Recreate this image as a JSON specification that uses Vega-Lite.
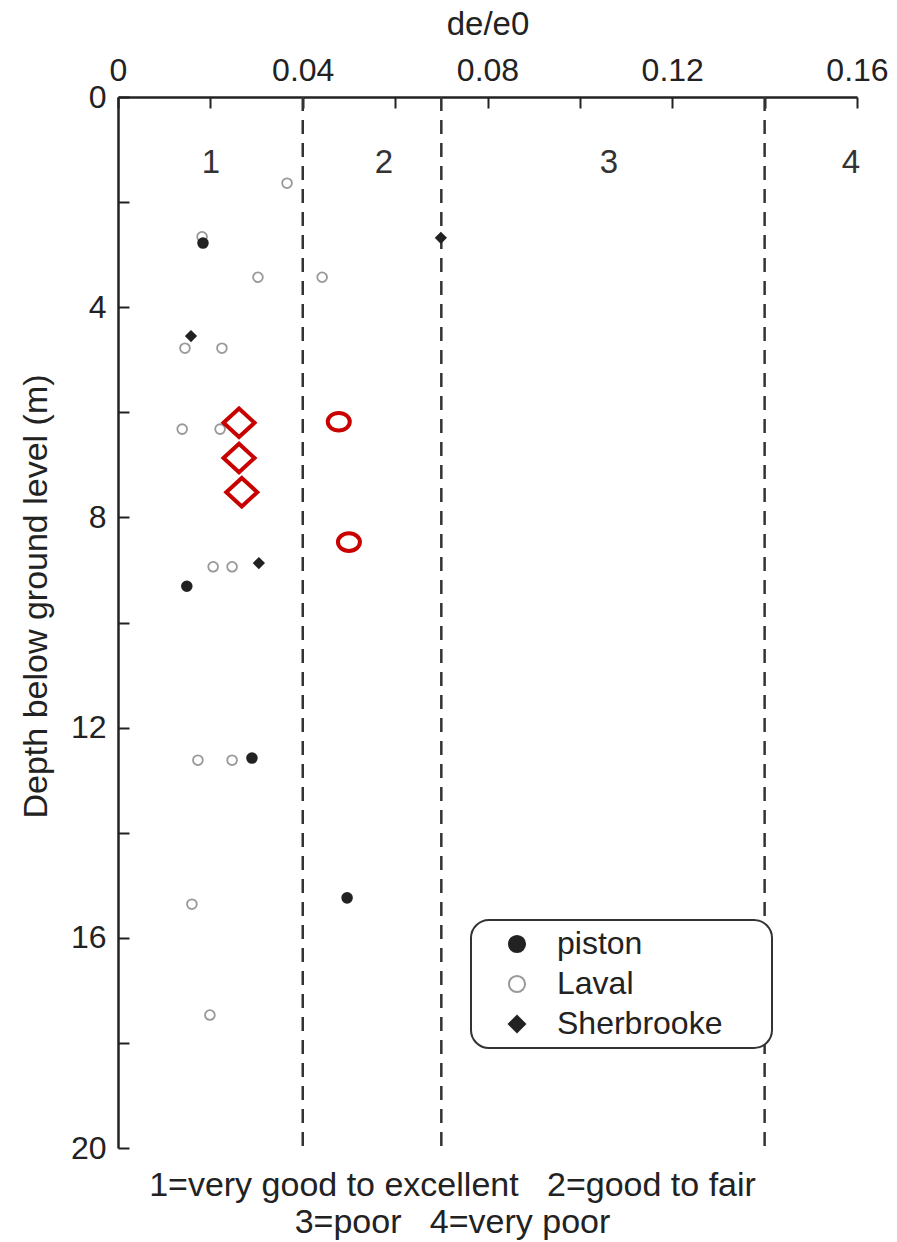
{
  "$schema": "https://vega.github.io/schema/vega-lite/v6.json",
  "width": 739,
  "height": 1051,
  "autosize": {"type": "none"},
  "padding": {"left": 118, "top": 97, "right": 40, "bottom": 94},
  "background": "white",
  "config": {
    "font": "Liberation Sans",
    "view": {"stroke": null},
    "axis": {
      "grid": false,
      "domainColor": "#222",
      "domainWidth": 2.5,
      "tickColor": "#222",
      "tickWidth": 2,
      "tickSize": -11,
      "labelFontSize": 32,
      "labelColor": "#222",
      "labelFlush": false,
      "labelOverlap": false,
      "titleFontSize": 33,
      "titleFontWeight": "normal",
      "titleColor": "#222"
    },
    "legend": {
      "orient": "none",
      "legendX": 353,
      "legendY": 823,
      "fillColor": "white",
      "strokeColor": "#333",
      "strokeWidth": 2,
      "cornerRadius": 18,
      "padding": 8,
      "rowPadding": 8,
      "labelFontSize": 32,
      "labelColor": "#222",
      "labelLimit": 400,
      "symbolSize": 260,
      "symbolStrokeWidth": 2,
      "symbolOffset": 22,
      "labelOffset": 24
    }
  },
  "title": {
    "text": ["1=very good to excellent\u00a0\u00a0\u00a02=good to fair", "3=poor\u00a0\u00a0\u00a04=very poor"],
    "orient": "bottom",
    "anchor": "middle",
    "fontSize": 34,
    "fontWeight": "normal",
    "color": "#222",
    "lineHeight": 37,
    "offset": 5,
    "dx": -35
  },
  "datasets": {
    "points": [
      {"type": "Laval", "x": 0.0366, "y": 1.64},
      {"type": "Laval", "x": 0.0182, "y": 2.66},
      {"type": "Laval", "x": 0.0303, "y": 3.43},
      {"type": "Laval", "x": 0.0442, "y": 3.43},
      {"type": "Laval", "x": 0.0145, "y": 4.78},
      {"type": "Laval", "x": 0.0225, "y": 4.78},
      {"type": "Laval", "x": 0.0139, "y": 6.32},
      {"type": "Laval", "x": 0.0221, "y": 6.32},
      {"type": "Laval", "x": 0.0206, "y": 8.94},
      {"type": "Laval", "x": 0.0247, "y": 8.94},
      {"type": "Laval", "x": 0.0173, "y": 12.62},
      {"type": "Laval", "x": 0.0247, "y": 12.62},
      {"type": "Laval", "x": 0.016, "y": 15.36},
      {"type": "Laval", "x": 0.0199, "y": 17.47},
      {"type": "piston", "x": 0.0184, "y": 2.78},
      {"type": "piston", "x": 0.0149, "y": 9.31},
      {"type": "piston", "x": 0.029, "y": 12.58},
      {"type": "piston", "x": 0.0496, "y": 15.24},
      {"type": "Sherbrooke", "x": 0.0158, "y": 4.55},
      {"type": "Sherbrooke", "x": 0.0305, "y": 8.87},
      {"type": "Sherbrooke", "x": 0.0699, "y": 2.68}
    ],
    "highlights": [
      {"kind": "diamond", "x": 0.0262, "y": 6.2},
      {"kind": "diamond", "x": 0.0262, "y": 6.87},
      {"kind": "diamond", "x": 0.0268, "y": 7.52},
      {"kind": "circle", "x": 0.0478, "y": 6.18},
      {"kind": "circle", "x": 0.05, "y": 8.47}
    ],
    "zones": [
      {"x": 0.04, "zone": "1", "lx": 0.0201, "ly": 1.26},
      {"x": 0.07, "zone": "2", "lx": 0.0576, "ly": 1.26},
      {"x": 0.14, "zone": "3", "lx": 0.1063, "ly": 1.26},
      {"x": null, "zone": "4", "lx": 0.1587, "ly": 1.26}
    ]
  },
  "layer": [
    {
      "data": {"name": "zones"},
      "transform": [{"filter": "datum.x != null"}],
      "mark": {"type": "rule", "strokeDash": [14, 9], "strokeWidth": 2.5, "color": "#333"},
      "encoding": {
        "x": {
          "field": "x",
          "type": "quantitative",
          "title": "de/e0",
          "scale": {"domain": [0, 0.16], "nice": false, "zero": true},
          "axis": {
            "orient": "top",
            "values": [0, 0.02, 0.04, 0.06, 0.08, 0.1, 0.12, 0.14, 0.16],
            "format": ".2~f",
            "labelExpr": "round(datum.value * 100) % 4 == 0 ? datum.label : ''",
            "labelPadding": 21,
            "labelDx": 6,
            "titlePadding": 13
          }
        }
      }
    },
    {
      "data": {"name": "zones"},
      "mark": {"type": "text", "fontSize": 33, "color": "#333", "align": "center", "baseline": "middle"},
      "encoding": {
        "x": {"field": "lx", "type": "quantitative", "title": "de/e0"},
        "y": {
          "field": "ly",
          "type": "quantitative",
          "title": "Depth below ground level (m)",
          "scale": {"domain": [0, 20], "nice": false, "reverse": true},
          "axis": {
            "orient": "left",
            "values": [0, 2, 4, 6, 8, 10, 12, 14, 16, 18, 20],
            "labelExpr": "datum.value % 4 == 0 ? datum.label : ''",
            "labelPadding": 23,
            "titleFontSize": 34,
            "titleX": -82,
            "titleY": 499,
            "titleAngle": -90,
            "titleAlign": "center",
            "titleBaseline": "middle"
          }
        },
        "text": {"field": "zone"}
      }
    },
    {
      "data": {"name": "points"},
      "mark": {"type": "point", "size": 95, "strokeWidth": 1.8, "opacity": 1},
      "encoding": {
        "x": {"field": "x", "type": "quantitative", "title": "de/e0"},
        "y": {"field": "y", "type": "quantitative", "title": "Depth below ground level (m)"},
        "shape": {
          "field": "type",
          "type": "nominal",
          "title": null,
          "scale": {"domain": ["piston", "Laval", "Sherbrooke"], "range": ["circle", "circle", "diamond"]},
          "legend": {"labelExpr": "datum.label + '\u00a0\u00a0\u2800'"}
        },
        "color": {
          "field": "type",
          "type": "nominal",
          "title": null,
          "scale": {"domain": ["piston", "Laval", "Sherbrooke"], "range": ["#222", "#999", "#222"]},
          "legend": {"labelExpr": "datum.label + '\u00a0\u00a0\u2800'"}
        },
        "fill": {
          "field": "type",
          "type": "nominal",
          "title": null,
          "scale": {"domain": ["piston", "Laval", "Sherbrooke"], "range": ["#222", "white", "#222"]},
          "legend": {"labelExpr": "datum.label + '\u00a0\u00a0\u2800'"}
        }
      }
    },
    {
      "data": {"name": "highlights"},
      "transform": [{"filter": "datum.kind == 'diamond'"}],
      "mark": {"type": "point", "shape": "M-1,0L0,-0.92L1,0L0,0.92Z", "size": 961, "filled": false, "color": "#c80000", "strokeWidth": 4, "opacity": 1},
      "encoding": {
        "x": {"field": "x", "type": "quantitative", "title": "de/e0"},
        "y": {"field": "y", "type": "quantitative", "title": "Depth below ground level (m)"}
      }
    },
    {
      "data": {"name": "highlights"},
      "transform": [{"filter": "datum.kind == 'circle'"}],
      "mark": {"type": "point", "shape": "M-1,0A1,0.8,0,1,0,1,0A1,0.8,0,1,0,-1,0Z", "size": 484, "filled": false, "color": "#c80000", "strokeWidth": 4, "opacity": 1},
      "encoding": {
        "x": {"field": "x", "type": "quantitative", "title": "de/e0"},
        "y": {"field": "y", "type": "quantitative", "title": "Depth below ground level (m)"}
      }
    }
  ]
}
